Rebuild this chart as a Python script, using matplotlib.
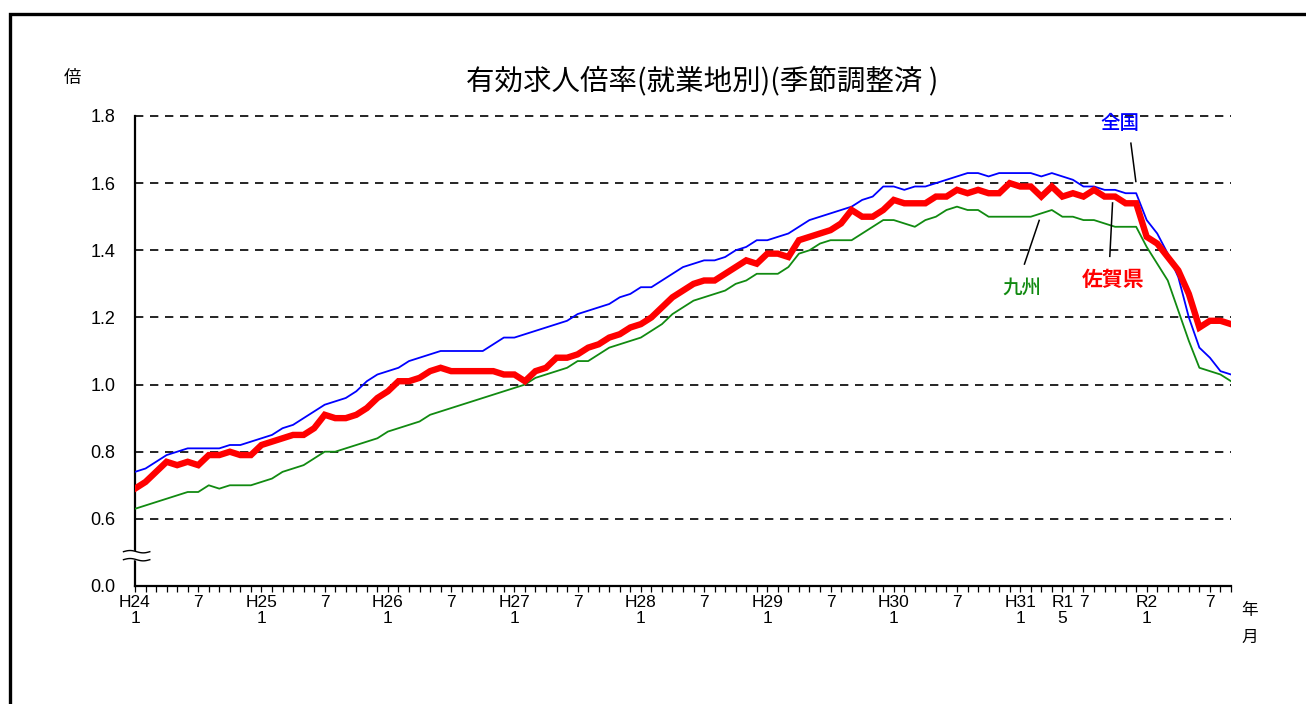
import numpy as np
import matplotlib
matplotlib.use('Agg')
import matplotlib.pyplot as plt
from matplotlib.patches import Rectangle

# monthly series, H24.1 (Jan 2012) .. R2.9 (Sep 2020)
zenkoku = [0.74, 0.75, 0.77, 0.79, 0.80, 0.81, 0.81, 0.81, 0.81, 0.82, 0.82, 0.83,
           0.84, 0.85, 0.87, 0.88, 0.90, 0.92, 0.94, 0.95, 0.96, 0.98, 1.01, 1.03,
           1.04, 1.05, 1.07, 1.08, 1.09, 1.10, 1.10, 1.10, 1.10, 1.10, 1.12, 1.14,
           1.14, 1.15, 1.16, 1.17, 1.18, 1.19, 1.21, 1.22, 1.23, 1.24, 1.26, 1.27,
           1.29, 1.29, 1.31, 1.33, 1.35, 1.36, 1.37, 1.37, 1.38, 1.40, 1.41, 1.43,
           1.43, 1.44, 1.45, 1.47, 1.49, 1.50, 1.51, 1.52, 1.53, 1.55, 1.56, 1.59,
           1.59, 1.58, 1.59, 1.59, 1.60, 1.61, 1.62, 1.63, 1.63, 1.62, 1.63, 1.63,
           1.63, 1.63, 1.62, 1.63, 1.62, 1.61, 1.59, 1.59, 1.58, 1.58, 1.57, 1.57,
           1.49, 1.45, 1.39, 1.32, 1.20, 1.11, 1.08, 1.04, 1.03]

saga = [0.69, 0.71, 0.74, 0.77, 0.76, 0.77, 0.76, 0.79, 0.79, 0.80, 0.79, 0.79,
        0.82, 0.83, 0.84, 0.85, 0.85, 0.87, 0.91, 0.90, 0.90, 0.91, 0.93, 0.96,
        0.98, 1.01, 1.01, 1.02, 1.04, 1.05, 1.04, 1.04, 1.04, 1.04, 1.04, 1.03,
        1.03, 1.01, 1.04, 1.05, 1.08, 1.08, 1.09, 1.11, 1.12, 1.14, 1.15, 1.17,
        1.18, 1.20, 1.23, 1.26, 1.28, 1.30, 1.31, 1.31, 1.33, 1.35, 1.37, 1.36,
        1.39, 1.39, 1.38, 1.43, 1.44, 1.45, 1.46, 1.48, 1.52, 1.50, 1.50, 1.52,
        1.55, 1.54, 1.54, 1.54, 1.56, 1.56, 1.58, 1.57, 1.58, 1.57, 1.57, 1.60,
        1.59, 1.59, 1.56, 1.59, 1.56, 1.57, 1.56, 1.58, 1.56, 1.56, 1.54, 1.54,
        1.44, 1.42, 1.38, 1.34, 1.27, 1.17, 1.19, 1.19, 1.18]

kyushu = [0.63, 0.64, 0.65, 0.66, 0.67, 0.68, 0.68, 0.70, 0.69, 0.70, 0.70, 0.70,
          0.71, 0.72, 0.74, 0.75, 0.76, 0.78, 0.80, 0.80, 0.81, 0.82, 0.83, 0.84,
          0.86, 0.87, 0.88, 0.89, 0.91, 0.92, 0.93, 0.94, 0.95, 0.96, 0.97, 0.98,
          0.99, 1.00, 1.02, 1.03, 1.04, 1.05, 1.07, 1.07, 1.09, 1.11, 1.12, 1.13,
          1.14, 1.16, 1.18, 1.21, 1.23, 1.25, 1.26, 1.27, 1.28, 1.30, 1.31, 1.33,
          1.33, 1.33, 1.35, 1.39, 1.40, 1.42, 1.43, 1.43, 1.43, 1.45, 1.47, 1.49,
          1.49, 1.48, 1.47, 1.49, 1.50, 1.52, 1.53, 1.52, 1.52, 1.50, 1.50, 1.50,
          1.50, 1.50, 1.51, 1.52, 1.50, 1.50, 1.49, 1.49, 1.48, 1.47, 1.47, 1.47,
          1.41, 1.36, 1.31, 1.22, 1.13, 1.05, 1.04, 1.03, 1.01]

months = np.arange(len(zenkoku))

label_pos = [0, 6, 12, 18, 24, 30, 36, 42, 48, 54, 60, 66, 72, 78, 84, 88, 90, 96, 102]
label_txt = ['H24\n1', '7', 'H25\n1', '7', 'H26\n1', '7', 'H27\n1', '7', 'H28\n1', '7',
             'H29\n1', '7', 'H30\n1', '7', 'H31\n1', 'R1\n5', '7', 'R2\n1', '7']

y_ticks = [0.4, 0.6, 0.8, 1.0, 1.2, 1.4, 1.6, 1.8]
y_labels = ['0.0', '0.6', '0.8', '1.0', '1.2', '1.4', '1.6', '1.8']

plt.rcParams['font.family'] = ['Liberation Sans', 'Noto Sans CJK JP']
jp = ['Noto Sans CJK JP', 'DejaVu Sans']

W, H = 1306, 704
fig = plt.figure(figsize=(W / 100, H / 100), dpi=100)
ax = fig.add_axes([135 / W, 1 - 586 / H, 1096 / W, 470 / H])

# outer frame (only top and left edges are inside the picture)
fig.patches.append(Rectangle((9.5 / W, -0.1), 1.2, 1.1 - 13.5 / H, transform=fig.transFigure,
                             fill=False, lw=2.4, ec='black'))

ax.plot(months, kyushu, color='#118a11', lw=1.3, zorder=3)
ax.plot(months, zenkoku, color='#0000ff', lw=1.3, zorder=4)
ax.plot(months, saga, color='#ff0000', lw=4.6, zorder=5, solid_joinstyle='miter')

ax.set_xlim(0, 104)
ax.set_ylim(0.4, 1.8)
ax.set_yticks(y_ticks)
ax.set_yticklabels(y_labels, fontsize=13)
ax.tick_params(axis='y', length=0, pad=14)

ax.set_xticks(months)
labels = [''] * len(months)
for p, t in zip(label_pos, label_txt):
    labels[p] = t
ax.set_xticklabels(labels, fontsize=12.5)
for t in ax.get_xticklabels():
    t.set_linespacing(1.05)
ax.tick_params(axis='x', direction='out', length=4.5, width=0.9, pad=2)

for v in y_ticks[1:]:
    ax.axhline(v, color='black', lw=1.2, ls=(0, (5, 4)), zorder=1, clip_on=False)

ax.spines['top'].set_visible(False)
ax.spines['right'].set_visible(False)
ax.spines['left'].set_linewidth(1.6)
ax.spines['bottom'].set_linewidth(1.6)

# axis break on the left spine
bx = np.linspace(-0.0105, 0.0135, 30)
wave = 0.0025 * np.sin((bx - bx[0]) / (bx[-1] - bx[0]) * 2 * np.pi)
y_up, y_lo = 0.073, 0.056
ax.fill_between(bx, y_lo + wave, y_up + wave, color='white', transform=ax.transAxes,
                clip_on=False, zorder=6)
ax.plot(bx, y_up + wave, color='black', lw=1.0, transform=ax.transAxes, clip_on=False, zorder=7)
ax.plot(bx, y_lo + wave, color='black', lw=1.0, transform=ax.transAxes, clip_on=False, zorder=7)

# series labels with leader lines
ax.text(93.45, 1.779, '全国', color='#0000ff', fontsize=14, family=jp, weight='medium',
        ha='center', va='center')
ax.plot([94.5, 94.97], [1.719, 1.605], color='black', lw=1.1, zorder=6)
ax.text(84.2, 1.288, '九州', color='#118a11', fontsize=14, family=jp, weight='medium',
        ha='center', va='center')
ax.plot([85.8, 84.4], [1.489, 1.359], color='black', lw=1.1, zorder=6)
ax.text(92.8, 1.314, '佐賀県', color='#ff0000', fontsize=15, family=jp, weight='bold',
        ha='center', va='center')
ax.plot([92.76, 92.5], [1.541, 1.382], color='black', lw=1.1, zorder=6)

fig.text(702 / W, 1 - 82 / H, '有効求人倍率(就業地別)(季節調整済 )', family=jp,
         fontsize=20.5, ha='center', va='center')
fig.text(72 / W, 1 - 78 / H, '倍', family=jp, fontsize=12.5, ha='center', va='center')
fig.text(1250 / W, 1 - 611 / H, '年', family=jp, fontsize=12, ha='center', va='center')
fig.text(1250 / W, 1 - 637 / H, '月', family=jp, fontsize=12, ha='center', va='center')

fig.savefig('out.png', dpi=100)
